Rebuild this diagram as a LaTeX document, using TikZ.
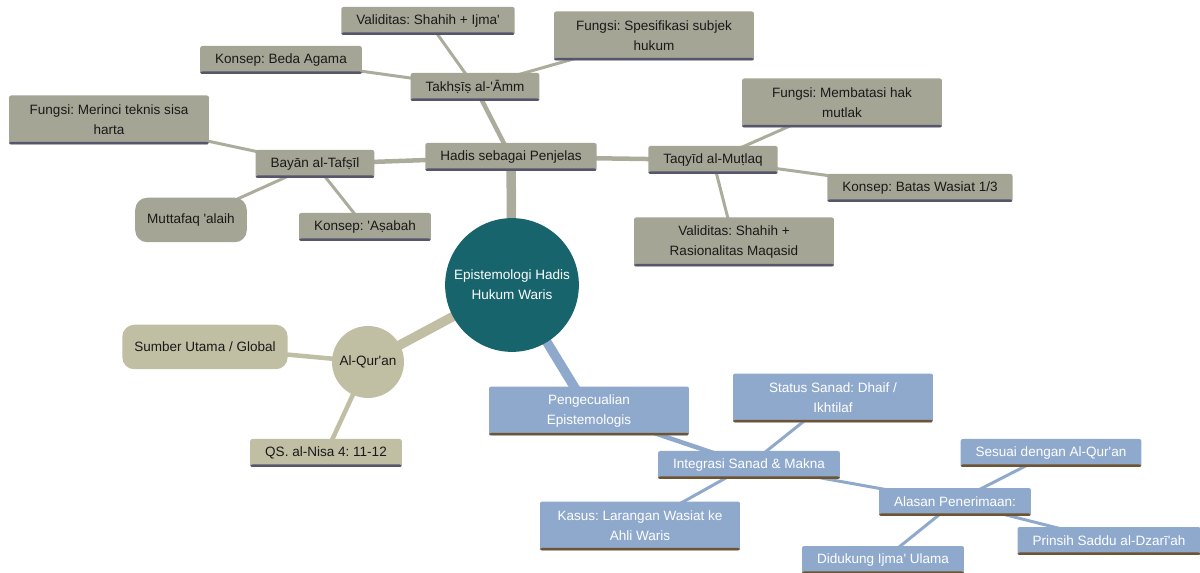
\documentclass[tikz,border=0pt]{standalone}
\usepackage{fontspec}
\setmainfont{Liberation Sans}[Ligatures=TeXOff]
\usetikzlibrary{backgrounds}
\frenchspacing

\definecolor{boxgray}{RGB}{165,165,150}
\definecolor{linegray}{RGB}{172,172,157}
\definecolor{boxtan}{RGB}{192,191,163}
\definecolor{boxblue}{RGB}{143,169,205}
\definecolor{slateline}{RGB}{85,86,108}
\definecolor{brownline}{RGB}{110,84,48}
\definecolor{teal}{RGB}{23,100,108}
\definecolor{txtdark}{RGB}{25,25,25}

\begin{document}
\begin{tikzpicture}[x=0.02cm, y=-0.02cm,
  box/.style={rectangle, rounded corners=1.2pt, inner xsep=0.3cm, inner ysep=0pt,
    minimum height=0.56cm, font=\fontsize{7.7}{11.3}\selectfont, text=txtdark},
  wide/.style={minimum width=4cm, minimum height=0.98cm, align=center},
  graybox/.style={box, fill=boxgray, path picture={\fill[slateline]
    (path picture bounding box.south west) rectangle ([yshift=0.05cm]path picture bounding box.south east);}},
  tanbox/.style={box, fill=boxtan, path picture={\fill[slateline]
    (path picture bounding box.south west) rectangle ([yshift=0.05cm]path picture bounding box.south east);}},
  bluebox/.style={box, fill=boxblue, text=white, path picture={\fill[brownline]
    (path picture bounding box.south west) rectangle ([yshift=0.05cm]path picture bounding box.south east);}},
  pill/.style={box, rounded corners=0.24cm, inner xsep=0.24cm, minimum height=0.89cm},
  trunk/.style={line width=0.19cm},
  branch/.style={line width=0.09cm},
  leaf/.style={line width=0.06cm}]
  \useasboundingbox (0,0) rectangle (1200,573);

  % pusat
  \node[circle, fill=teal, text=white, minimum size=2.64cm, align=center,
    font=\fontsize{7.7}{11.3}\selectfont] (pusat) at (512,285) {Epistemologi Hadis\\Hukum Waris};

  % al-Qur'an
  \node[circle, fill=boxtan, text=txtdark, minimum size=1.44cm, inner sep=0pt,
    font=\fontsize{7.7}{11.3}\selectfont] (quran) at (368,362) {Al-Qur'an};
  \node[pill, fill=boxtan] (sumber) at (205,347) {Sumber Utama / Global};
  \node[tanbox] (nisa) at (326,453) {QS. al-Nisa 4: 11-12};

  % hadis sebagai penjelas
  \node[graybox] (hadis) at (511,157) {Hadis sebagai Penjelas};
  \node[graybox] (takhsis) at (475,87) {Takhṣīṣ al-'Āmm};
  \node[graybox] (validijma) at (428,21) {Validitas: Shahih + Ijma'};
  \node[graybox] (bedaagama) at (281,60) {Konsep: Beda Agama};
  \node[graybox, wide] (spesifikasi) at (654,36) {Fungsi: Spesifikasi subjek\\hukum};
  \node[graybox] (bayan) at (315,164) {Bayān al-Tafṣīl};
  \node[graybox, wide] (merinci) at (109,120) {Fungsi: Merinci teknis sisa\\harta};
  \node[pill, fill=boxgray] (muttafaq) at (191,220) {Muttafaq 'alaih};
  \node[graybox] (asabah) at (365,227) {Konsep: 'Aṣabah};
  \node[graybox] (taqyid) at (713,160) {Taqyīd al-Muṭlaq};
  \node[graybox, wide] (membatasi) at (842,103) {Fungsi: Membatasi hak\\mutlak};
  \node[graybox] (batas) at (920,188) {Konsep: Batas Wasiat 1/3};
  \node[graybox, wide] (validmaqasid) at (734,242) {Validitas: Shahih +\\Rasionalitas Maqasid};

  % pengecualian
  \node[bluebox, wide] (pengecualian) at (589,411) {Pengecualian\\Epistemologis};
  \node[bluebox] (integrasi) at (749,465) {Integrasi Sanad \& Makna};
  \node[bluebox, wide] (status) at (833,398) {Status Sanad: Dhaif /\\Ikhtilaf};
  \node[bluebox, wide] (kasus) at (640,526) {Kasus: Larangan Wasiat ke\\Ahli Waris};
  \node[bluebox] (alasan) at (955,502) {Alasan Penerimaan:};
  \node[bluebox] (sesuai) at (1051,453) {Sesuai dengan Al-Qur'an};
  \node[bluebox] (prinsih) at (1109,541) {Prinsih Saddu al-Dzarī'ah};
  \node[bluebox] (didukung) at (883,560) {Didukung Ijma' Ulama};

  \begin{scope}[on background layer]
    \draw[trunk, linegray] (pusat.center) -- (hadis.center);
    \draw[trunk, boxtan] (pusat.center) -- (quran.center);
    \draw[trunk, boxblue] (pusat.center) -- (pengecualian.center);

    \draw[branch, boxtan] (quran.center) -- (sumber.center);
    \draw[branch, boxtan] (quran.center) -- (nisa.center);

    \draw[branch, linegray] (hadis.center) -- (takhsis.center);
    \draw[branch, linegray] (hadis.center) -- (bayan.center);
    \draw[branch, linegray] (hadis.center) -- (taqyid.center);
    \draw[leaf, linegray] (takhsis.center) -- (validijma.center);
    \draw[leaf, linegray] (takhsis.center) -- (bedaagama.center);
    \draw[leaf, linegray] (takhsis.center) -- (spesifikasi.center);
    \draw[leaf, linegray] (bayan.center) -- (merinci.center);
    \draw[leaf, linegray] (bayan.center) -- (muttafaq.center);
    \draw[leaf, linegray] (bayan.center) -- (asabah.center);
    \draw[leaf, linegray] (taqyid.center) -- (membatasi.center);
    \draw[leaf, linegray] (taqyid.center) -- (batas.center);
    \draw[leaf, linegray] (taqyid.center) -- (validmaqasid.center);

    \draw[branch, boxblue] (pengecualian.center) -- (integrasi.center);
    \draw[leaf, boxblue] (integrasi.center) -- (status.center);
    \draw[leaf, boxblue] (integrasi.center) -- (kasus.center);
    \draw[leaf, boxblue] (integrasi.center) -- (alasan.center);
    \draw[leaf, boxblue] (alasan.center) -- (sesuai.center);
    \draw[leaf, boxblue] (alasan.center) -- (prinsih.center);
    \draw[leaf, boxblue] (alasan.center) -- (didukung.center);
  \end{scope}
\end{tikzpicture}
\end{document}
